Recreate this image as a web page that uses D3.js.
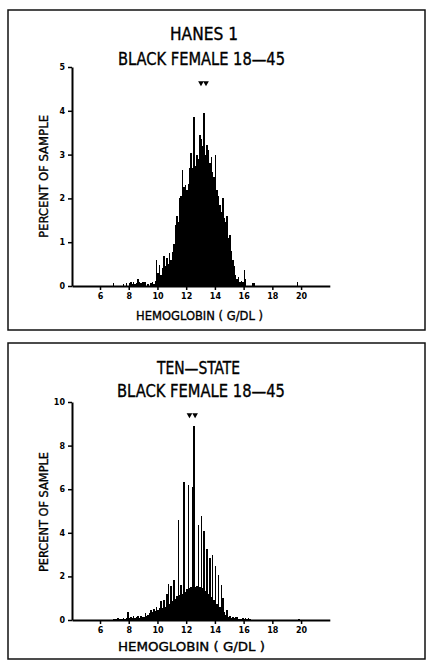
<!DOCTYPE html>
<html><head><meta charset="utf-8">
<script src="https://cdn.jsdelivr.net/npm/d3@7"></script>
<style>html,body{margin:0;padding:0;background:#fff}svg{display:block}</style>
</head><body><svg id="c" width="428" height="662"></svg>
<script>
// Hemoglobin bins (g/dL, left edge, 0.1 wide) from 6.9 to 19.8
const hemoglobinBins = d3.range(69, 199).map(d => d / 10);

// Percent of sample per bin
const hanesValues = [
  0.07,0,0,0,0,0,0,0.05,0,0.07,
  0,0.06,0.08,0.05,0.09,0.05,0.07,0.16,0.1,0.06,
  0.1,0.08,0.09,0,0.05,0,0.07,0.1,0.05,0.12,
  0.59,0.3,0.48,0.25,0.41,0.69,0.45,0.63,0.5,0.75,
  0.6,0.78,0.95,1.39,1.6,1.45,2.0,2.05,2.65,2.25,
  2.3,2.2,2.32,2.7,3.03,2.7,3.85,2.75,3.0,2.9,
  3.45,3.35,3.2,3.94,3.0,3.23,3.1,2.8,2.95,2.6,
  2.5,3.0,2.2,2.05,1.85,1.7,2.0,1.55,1.45,1.6,
  1.1,1.16,0.8,0.6,0.45,0.25,0.15,0.2,0.08,0.12,
  0.08,0.37,0.15,0,0,0,0,0.07,0.07,0,
  0,0,0,0,0,0,0,0,0,0,
  0,0,0,0,0,0,0,0,0,0,
  0,0,0,0,0,0,0,0,0.08,0
];
const tenStateValues = [
  0.05,0.06,0.04,0.07,0.05,0.03,0.05,0.08,0.05,0.1,
  0.35,0.1,0.15,0.08,0.18,0.1,0.12,0.18,0.1,0.2,
  0.12,0.15,0.3,0.18,0.25,0.3,0.45,0.35,0.5,0.4,
  0.6,0.45,0.55,0.85,0.55,0.9,0.6,1.2,1.65,0.75,
  1.55,0.85,1.83,0.95,1.1,4.6,1.15,1.6,1.2,6.35,
  1.3,1.4,6.2,1.45,1.5,6.1,8.9,1.5,1.55,4.35,
  1.5,4.75,1.45,4.1,1.35,3.25,1.2,2.85,1.05,3.0,
  0.9,2.5,0.75,2.05,0.6,1.6,1.0,0.35,0.25,0.45,
  0.15,0.2,0.1,0.12,0.08,0.15,0.12,0.05,0.06,0.05,
  0.08,0.06,0.1,0.05,0.08,0.04,0,0,0,0,
  0,0,0,0,0,0,0,0,0,0,
  0,0,0,0,0,0,0,0,0,0,
  0,0,0,0,0,0,0,0,0,0.05
];

const xTicks = [6, 8, 10, 12, 14, 16, 18, 20];
const hanesYTicks = [0, 1, 2, 3, 4, 5];
const tenStateYTicks = [0, 2, 4, 6, 8, 10];
// Markers above the distributions (mean and median positions)
const hanesMarks = [13.03, 13.38];
const tenStateMarks = [12.23, 12.62];

const hanesTitle = ["HANES 1", "BLACK FEMALE 18\u201445"];
const tenStateTitle = ["TEN\u2014STATE", "BLACK FEMALE 18\u201445"];
const xLabel = "HEMOGLOBIN ( G/DL )";
const yLabel = "PERCENT OF SAMPLE";

const svg = d3.select("#c");
const narrow = "'Liberation Sans Narrow','Arial Narrow','DejaVu Sans Condensed','Liberation Sans',sans-serif";

function panel(cfg) {
  const g = svg.append("g");
  g.append("rect")
    .attr("x", cfg.box[0]).attr("y", cfg.box[1])
    .attr("width", cfg.box[2]).attr("height", cfg.box[3])
    .attr("fill", "none").attr("stroke", "#111").attr("stroke-width", 1.5);

  const x = d3.scaleLinear().domain([4.05, 22]).range([72, 329.8]);
  const y = d3.scaleLinear().domain([0, cfg.yMax]).range([cfg.y0, cfg.yTop]);
  const bw = x(0.1) - x(0);

  // histogram bars
  g.append("g").selectAll("rect")
    .data(hemoglobinBins.map((b, i) => ({ b, v: cfg.values[i] })).filter(d => d.v > 0))
    .join("rect")
    .attr("x", d => x(d.b))
    .attr("width", bw)
    .attr("y", d => y(d.v))
    .attr("height", d => y(0) - y(d.v))
    .attr("fill", "#000")
    .attr("shape-rendering", "crispEdges");

  // axes
  const xa = g.append("g").attr("transform", `translate(0,${cfg.y0})`)
    .call(d3.axisBottom(x).tickValues(xTicks).tickSize(4).tickSizeOuter(0).tickPadding(3));
  const ya = g.append("g").attr("transform", "translate(72,0)")
    .call(d3.axisLeft(y).tickValues(cfg.yTicks).tickFormat(d3.format("d"))
      .tickSize(4).tickSizeOuter(0).tickPadding(3));
  [xa, ya].forEach(a => {
    a.select(".domain").attr("stroke", "#000").attr("stroke-width", 2);
    a.selectAll(".tick line").attr("stroke", "#000").attr("stroke-width", 1.5);
    a.selectAll(".tick text").attr("fill", "#000")
      .attr("font-family", "'DejaVu Sans',sans-serif").attr("font-weight", "bold").attr("font-size", 8);
  });

  // markers
  g.append("g").selectAll("path").data(cfg.marks).join("path")
    .attr("d", d3.symbol(d3.symbolTriangle, 14))
    .attr("transform", d => `translate(${x(d)},${cfg.markY}) rotate(180)`)
    .attr("fill", "#000");

  // titles and axis labels
  const textStyle = sel => sel
    .attr("font-family", narrow).attr("fill", "#000")
    .attr("stroke", "#000").attr("stroke-width", 0.35)
    .attr("lengthAdjust", "spacingAndGlyphs");
  cfg.title.forEach((t, i) => {
    g.append("text").text(t)
      .attr("x", cfg.titleX[i]).attr("y", cfg.titleY[i])
      .attr("font-size", cfg.titleSize[i])
      .attr("textLength", cfg.titleW[i])
      .call(textStyle);
  });
  g.append("text").text(xLabel)
    .attr("x", cfg.xLab[0]).attr("y", cfg.xLab[1])
    .attr("font-size", 13).attr("textLength", cfg.xLab[2])
    .call(textStyle);
  g.append("text").text(yLabel)
    .attr("transform", `translate(${cfg.yLab[0]},${cfg.yLab[1]}) rotate(-90)`)
    .attr("font-size", 13).attr("textLength", cfg.yLab[2])
    .call(textStyle);
}

panel({
  box: [8, 10, 417, 320],
  values: hanesValues, yMax: 5, y0: 286, yTop: 67, yTicks: hanesYTicks,
  marks: hanesMarks, markY: 83,
  title: hanesTitle, titleX: [170, 118], titleY: [40, 65], titleSize: [17, 18], titleW: [68, 167],
  xLab: [136, 320, 127], yLab: [48, 238, 123]
});
panel({
  box: [8, 343, 417, 316],
  values: tenStateValues, yMax: 10, y0: 620, yTop: 402, yTicks: tenStateYTicks,
  marks: tenStateMarks, markY: 415,
  title: tenStateTitle, titleX: [157, 117], titleY: [374, 397], titleSize: [17, 18], titleW: [83, 168],
  xLab: [118, 651, 147], yLab: [48, 572, 120]
});
</script></body></html>
